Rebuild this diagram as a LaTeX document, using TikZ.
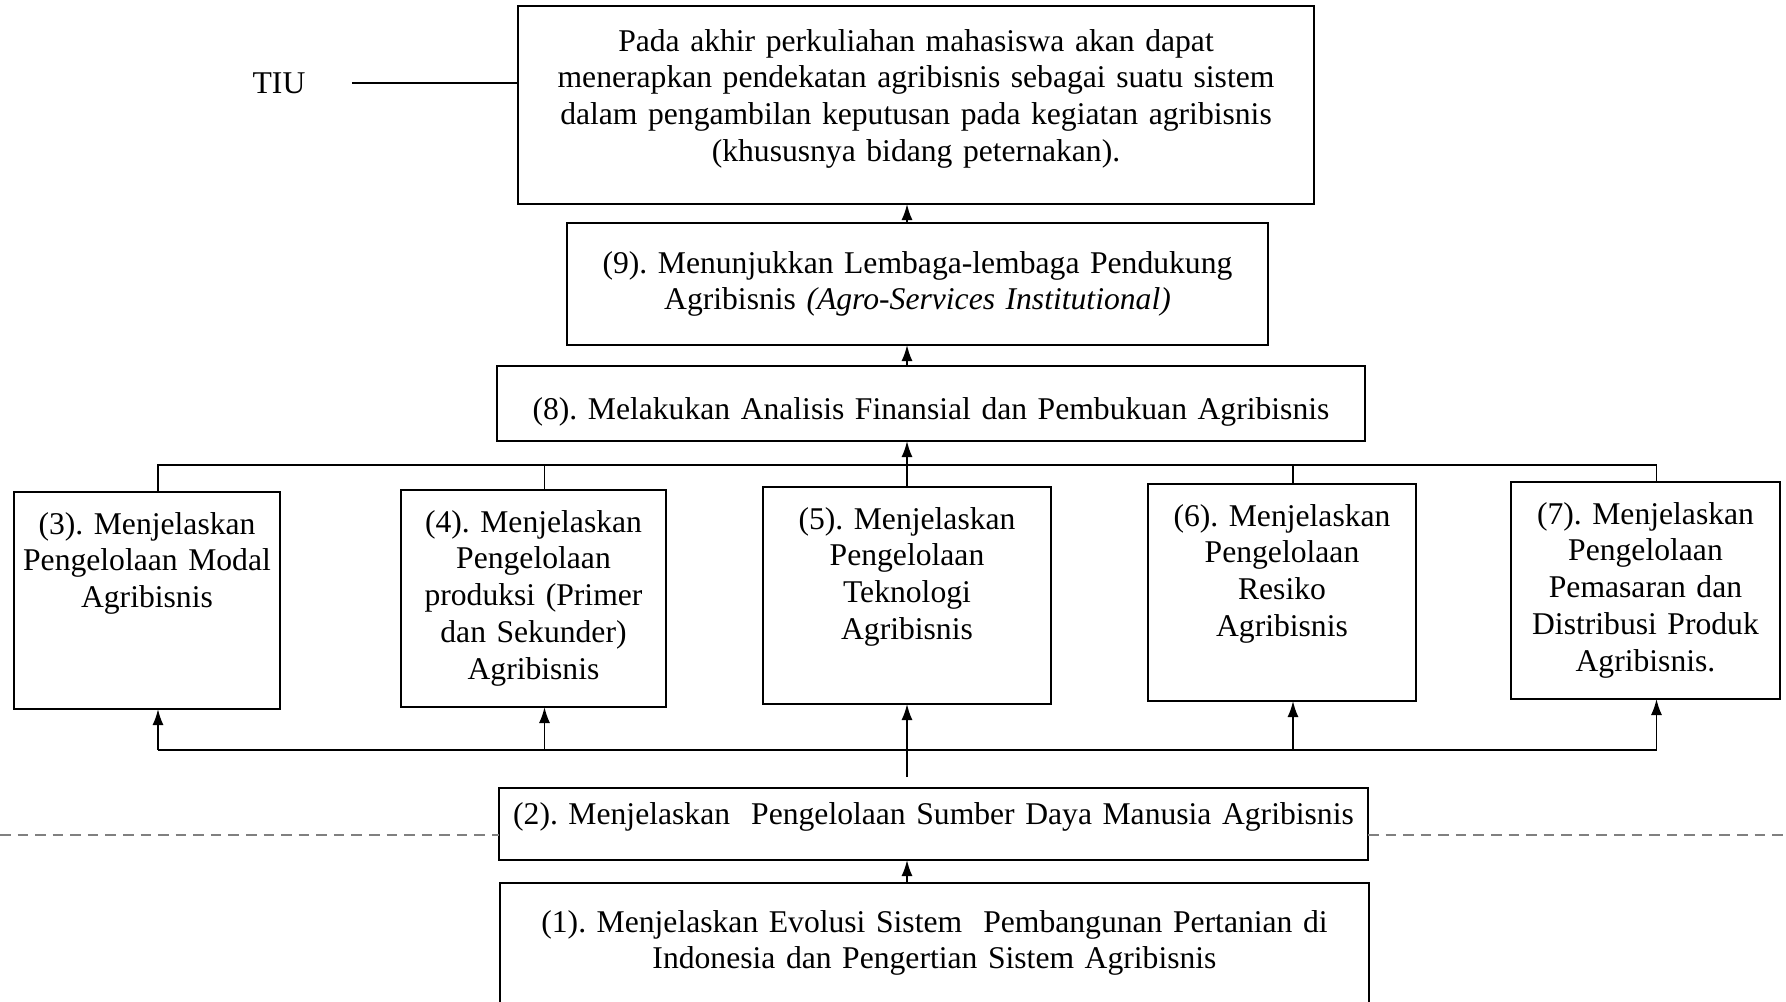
\documentclass[tikz,border=0pt]{standalone}
\usepackage{fontspec}
\setmainfont{Liberation Serif}
\usepackage{tikz}
\usetikzlibrary{arrows.meta, positioning}
\frenchspacing
\newcommand{\agbTujuan}{Pada akhir perkuliahan mahasiswa akan dapat\\
menerapkan pendekatan agribisnis sebagai suatu sistem\\
dalam pengambilan keputusan pada kegiatan agribisnis\\
(khususnya bidang peternakan).}
\newcommand{\agbLembaga}{(9). Menunjukkan Lembaga-lembaga Pendukung\\
Agribisnis \textit{(Agro-Services Institutional)}}
\newcommand{\agbFinansial}{(8). Melakukan Analisis Finansial dan Pembukuan Agribisnis}
\newcommand{\agbSdm}{(2). Menjelaskan\ \ Pengelolaan Sumber Daya Manusia Agribisnis}
\newcommand{\agbEvolusi}{(1). Menjelaskan Evolusi Sistem\ \ Pembangunan Pertanian di\\
Indonesia dan Pengertian Sistem Agribisnis}

\begin{document}
\begin{tikzpicture}[
                kotak/.style={draw, line width=0.8pt, align=center, anchor=north west,
                              inner sep=0pt, outer sep=0pt},
                kotakbaris/.style={kotak, text height=0.42cm, text depth=1.75cm},
                garis/.style={line width=0.5pt},
                font=\fontsize{9}{10.5}\selectfont,
                >={Latex[length=1.6mm, width=1.1mm]}
            ]

                \useasboundingbox (0,0) rectangle (17.86,-10.01);

                \node[kotak, text width=7.96cm, text height=0.45cm, text depth=1.53cm] (tujuan) at (5.18,-0.06) {\agbTujuan};
                \node (tiu) at (2.79,-0.83) {TIU};

                \node[kotak, text width=7.01cm, text height=0.50cm, text depth=0.72cm] (b9) at (5.67,-2.23) {\agbLembaga};
                \node[kotak, text width=8.68cm, text height=0.53cm, text depth=0.22cm] (b8) at (4.97,-3.66) {\agbFinansial};

                \node[kotakbaris, text width=2.66cm] (b3) at (0.14,-4.92)  {(3). Menjelaskan\\ Pengelolaan Modal\\ Agribisnis};
                \node[kotakbaris, text width=2.65cm] (b4) at (4.01,-4.90)  {(4). Menjelaskan\\ Pengelolaan\\ produksi (Primer\\ dan Sekunder)\\ Agribisnis};
                \node[kotakbaris, text width=2.88cm] (b5) at (7.63,-4.87)  {(5). Menjelaskan\\ Pengelolaan\\ Teknologi\\ Agribisnis};
                \node[kotakbaris, text width=2.68cm] (b6) at (11.48,-4.84) {(6). Menjelaskan\\ Pengelolaan\\ Resiko\\ Agribisnis};
                \node[kotakbaris, text width=2.69cm] (b7) at (15.11,-4.82) {(7). Menjelaskan\\ Pengelolaan\\ Pemasaran dan\\ Distribusi Produk\\ Agribisnis.};

                \node[kotak, text width=8.69cm, text height=0.36cm, text depth=0.36cm] (b2) at (4.99,-7.88) {\agbSdm};
                \node[kotak, text width=8.69cm, text height=0.49cm, text depth=0.80cm] (b1) at (5.00,-8.83) {\agbEvolusi};

                \coordinate (busatas) at (0,-4.65);
                \coordinate (busbawah) at (0,-7.50);
                \coordinate (gariskiri) at (0,-8.35);
                \coordinate (gariskanan) at (17.86,-8.35);

                % TIU ke tujuan
                \draw[garis] ([xshift=3.4mm]tiu.east) -- (tiu -| tujuan.west);

                % jalur tengah ke atas
                \draw[garis, ->] (b9.north -| b5.north) -- (tujuan.south -| b5.north);
                \draw[garis, ->] (b8.north -| b5.north) -- (b9.south -| b5.north);
                \draw[garis, ->] (b5.north) -- (b8.south -| b5.north);

                % cabang atas
                \draw[garis] ([xshift=1.1mm]b3.north) -- ([xshift=1.1mm]b3.north |- busatas) -- ([xshift=1.1mm]b7.north |- busatas) -- ([xshift=1.1mm]b7.north);
                \draw[garis] ([xshift=1.1mm]b4.north) -- ([xshift=1.1mm]b4.north |- busatas);
                \draw[garis] ([xshift=1.1mm]b6.north) -- ([xshift=1.1mm]b6.north |- busatas);

                % cabang bawah
                \draw[garis] ([xshift=1.1mm]b3.south |- busbawah) -- ([xshift=1.1mm]b7.south |- busbawah);
                \draw[garis, ->] ([xshift=1.1mm]b3.south |- busbawah) -- ([xshift=1.1mm]b3.south);
                \draw[garis, ->] ([xshift=1.1mm]b4.south |- busbawah) -- ([xshift=1.1mm]b4.south);
                \draw[garis, ->] ([xshift=1.1mm]b6.south |- busbawah) -- ([xshift=1.1mm]b6.south);
                \draw[garis, ->] ([xshift=1.1mm]b7.south |- busbawah) -- ([xshift=1.1mm]b7.south);
                \draw[garis, ->] ([yshift=1.1mm]b2.north -| b5.south) -- (b5.south);

                \draw[garis, ->] (b1.north -| b5.south) -- (b2.south -| b5.south);

                % garis putus-putus hasil pindaian
                \draw[gray, densely dashed, line width=0.3pt] (gariskiri) -- (gariskiri -| b2.west);
                \draw[gray, densely dashed, line width=0.3pt] (gariskanan -| b2.east) -- (gariskanan);

            \end{tikzpicture}
\end{document}
